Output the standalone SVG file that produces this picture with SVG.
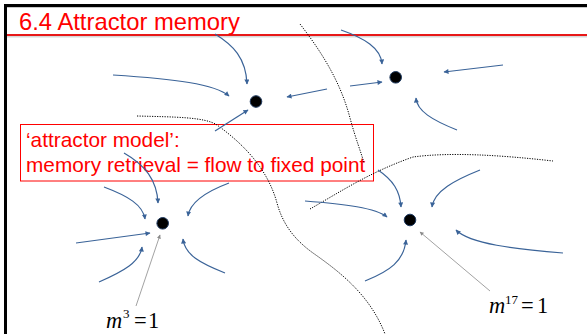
<svg xmlns="http://www.w3.org/2000/svg" width="587" height="334" viewBox="0 0 587 334">
<defs>
<style>
.flow{fill:none;stroke:#3A6398;stroke-width:1.2;marker-end:url(#ah)}
.sep{fill:none;stroke:#000;stroke-width:1;stroke-dasharray:1.2 1.3}
.ptr{fill:none;stroke:#8A8A8A;stroke-width:0.8;marker-end:url(#gh)}
.dot{fill:#000;stroke:#1F3A60;stroke-width:1}
.lbl{font-family:"Liberation Serif","Times New Roman",serif;font-size:22.5px;fill:#000}
.sup{font-size:13px}
.red{font-family:"Liberation Sans",Arial,sans-serif;fill:#FF0000}
</style>
<marker id="ah" viewBox="0 0 10 10" refX="9" refY="5" markerWidth="6" markerHeight="5" orient="auto" markerUnits="userSpaceOnUse"><path d="M0,0 L10,5 L0,10 z" fill="#3A6398"/></marker>
<marker id="gh" viewBox="0 0 10 10" refX="9" refY="5" markerWidth="5" markerHeight="4" orient="auto" markerUnits="userSpaceOnUse"><path d="M0,0 L10,5 L0,10 z" fill="#8A8A8A"/></marker>
</defs>
<rect width="587" height="334" fill="#fff"/>
<g id="frame">
<rect x="4" y="4" width="583" height="3" fill="#000"/>
<rect x="4" y="4" width="3" height="330" fill="#000"/>
<rect x="7" y="7" width="580" height="1" fill="#C8C8C8"/>
<rect x="7" y="34" width="580" height="2" fill="#E81818"/>
<rect x="7" y="36" width="580" height="1.5" fill="#D8D8D8"/>
</g>
<g id="title"><text class="red" x="19" y="30" font-size="23.8">6.4 Attractor memory</text></g>
<g id="note">
<rect x="20.5" y="124.5" width="353" height="56.5" fill="none" stroke="#FF0000" stroke-width="1"/>
<text class="red" x="26" y="147" font-size="20.8">‘attractor model’:</text>
<text class="red" x="26" y="172" font-size="20.8">memory retrieval = flow to fixed point</text>
</g>
<g id="separatrices">
<path class="sep" d="M300,24 C320,50 340,80 350,118 C356,140 361,152 364,163"/>
<path class="sep" d="M310,209 C340,192 370,172 413,157 C450,152 500,155 553,161"/>
<path class="sep" d="M137,116 C175,117 205,117 217,125 C245,145 268,170 277,203 C283,225 295,240 313,253 C340,272 370,295 385,334"/>
</g>
<g id="connectors">
<path class="flow" d="M113,75 C175,79 215,84 229,96"/>
<path class="flow" d="M215,34 C233,45 246,58 247,84"/>
<path class="flow" d="M327,89 L287,97"/>
<path class="flow" d="M215,131 L248,110"/>
<path class="flow" d="M341,30 C364,38 381,48 382,64"/>
<path class="flow" d="M350,86 L382,82"/>
<path class="flow" d="M503,65 L444,72"/>
<path class="flow" d="M457,130 C432,120 417,111 416,98"/>
<path class="flow" d="M124,153 C145,165 157,180 158,203"/>
<path class="flow" d="M104,187 C128,196 143,205 145,219"/>
<path class="flow" d="M229,183 C205,192 190,202 188,216"/>
<path class="flow" d="M76,243 L150,233"/>
<path class="flow" d="M99,282 C124,271 140,262 142,247"/>
<path class="flow" d="M225,273 C200,263 185,255 183,239"/>
<path class="flow" d="M305,201 C345,204 376,208 387,217"/>
<path class="flow" d="M378,170 C393,180 400,191 401,207"/>
<path class="flow" d="M480,170 C455,180 434,191 432,207"/>
<path class="flow" d="M563,253 C515,249 470,244 456,230"/>
<path class="flow" d="M365,281 C390,271 404,261 406,240"/>
<path class="ptr" d="M136,306 L160,235"/>
<path class="ptr" d="M490,291 L420,232"/>
</g>
<g id="attractor-a"><circle class="dot" cx="256" cy="101.5" r="5.8"/></g>
<g id="attractor-b"><circle class="dot" cx="395.7" cy="77.3" r="5.8"/></g>
<g id="attractor-c"><circle class="dot" cx="162.7" cy="223.3" r="5.8"/></g>
<g id="attractor-d"><circle class="dot" cx="410" cy="220" r="5.8"/></g>
<g id="label-m3">
<text class="lbl" x="106" y="328" font-style="italic">m</text>
<text class="lbl sup" x="123" y="318">3</text>
<text class="lbl" x="134" y="328">=</text>
<text class="lbl" x="148" y="328">1</text>
</g>
<g id="label-m17">
<text class="lbl" x="489" y="313" font-style="italic">m</text>
<text class="lbl sup" x="505" y="304">17</text>
<text class="lbl" x="521" y="313">=</text>
<text class="lbl" x="537" y="313">1</text>
</g>
</svg>
